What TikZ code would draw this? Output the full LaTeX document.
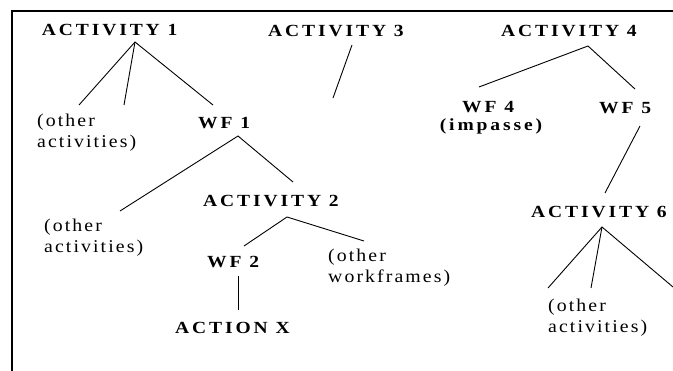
\documentclass[tikz,border=0pt]{standalone}
\usepackage{fontspec}
\setmainfont{Liberation Serif}
\newfontfamily\boldls[LetterSpace=17,FakeStretch=1.15]{Liberation Serif Bold}
\newfontfamily\regls[LetterSpace=11.6,FakeStretch=1.1]{Liberation Serif}
\begin{document}
\begin{tikzpicture}[x=1pt,y=-1pt,
  head/.style={anchor=base west,inner sep=0pt,font=\boldls\fontsize{17}{21}\selectfont},
  note/.style={anchor=base west,inner sep=0pt,align=left,font=\regls\fontsize{18}{21}\selectfont},
  link/.style={line width=0.9pt},
  frame/.style={line width=1.3pt}]
\useasboundingbox (0,0) rectangle (673,371);
\draw[frame] (12,371) -- (12,11) -- (673,11);
% nodes
\node[head] (act1) at (41.7,36) {ACTIVITY 1};
\node[head] (act3) at (268,37) {ACTIVITY 3};
\node[head] (act4) at (501,37) {ACTIVITY 4};
\node[note] (oa1) at (37,148) {(other\\activities)};
\node[head] (wf1) at (198,129) {WF 1};
\node[head] (wf4) at (462,113) {WF 4};
\node[head,anchor=base] (imp) at (491,131) {(impasse)};
\node[head] (wf5) at (599,114) {WF 5};
\node[note] (oa2) at (44,253) {(other\\activities)};
\node[head] (act2) at (203,207) {ACTIVITY 2};
\node[head] (act6) at (531,218) {ACTIVITY 6};
\node[head] (wf2) at (207,268) {WF 2};
\node[note] (ow) at (328,283) {(other\\workframes)};
\node[head] (actx) at (175,334) {ACTION X};
\node[note] (oa3) at (548,333) {(other\\activities)};
% connector points
\coordinate (a1t) at (135,42);
\coordinate (oa1a) at (79,105);
\coordinate (oa1b) at (124,105);
\coordinate (wf1t) at (213,105);
\coordinate (wf1b) at (238,136);
\coordinate (oa2t) at (120,211);
\coordinate (act2t) at (293,182);
\coordinate (a3b) at (352,45);
\coordinate (a3e) at (333,98);
\coordinate (a4b) at (588,46);
\coordinate (wf4t) at (479,87);
\coordinate (wf5t) at (635,89);
\coordinate (wf5b) at (640,126);
\coordinate (act6t) at (605,193);
\coordinate (a6b) at (602,227);
\coordinate (oa3a) at (548,288);
\coordinate (oa3b) at (591,288);
\coordinate (a6r) at (673,287);
\coordinate (a2b) at (287,217);
\coordinate (wf2t) at (244,246);
\coordinate (owt) at (364,241);
\coordinate (wf2b) at (238,276);
\coordinate (actxt) at (238,310);
% connectors
\draw[link] (oa1a) -- (a1t) -- (wf1t);
\draw[link] (a1t) -- (oa1b);
\draw[link] (oa2t) -- (wf1b) -- (act2t);
\draw[link] (a3b) -- (a3e);
\draw[link] (wf4t) -- (a4b) -- (wf5t);
\draw[link] (wf5b) -- (act6t);
\draw[link] (oa3a) -- (a6b) -- (a6r);
\draw[link] (a6b) -- (oa3b);
\draw[link] (wf2t) -- (a2b) -- (owt);
\draw[link] (wf2b) -- (actxt);
\end{tikzpicture}
\end{document}
